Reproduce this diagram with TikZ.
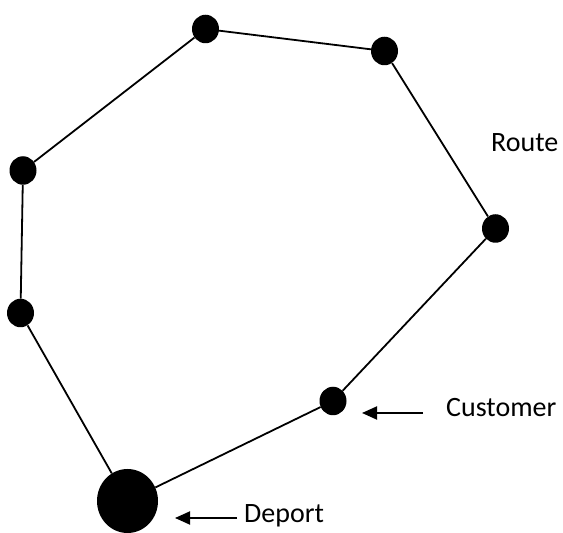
\documentclass[tikz,border=0pt]{standalone}
\usepackage{fontspec}
\setmainfont{Carlito}
\usetikzlibrary{shapes.geometric,arrows.meta}
\begin{document}
\begin{tikzpicture}[x=1pt,y=1pt,
  stop/.style={ellipse,fill=black,inner sep=0pt,minimum width=27pt,minimum height=28.5pt},
  depot/.style={ellipse,fill=black,inner sep=0pt,minimum width=61pt,minimum height=64pt},
  edge/.style={line width=1.8pt},
  pointer/.style={line width=1.9pt,-{Triangle[length=15pt,width=13pt]}},
  lbl/.style={inner sep=0pt,anchor=base west,font=\fontsize{28}{33}\selectfont}]
\useasboundingbox (0,0) rectangle (563,533);
\node[stop] (t1) at (205.5,504) {};
\node[stop] (t2) at (384.5,482) {};
\node[stop] (r) at (495.5,304.5) {};
\node[stop] (c) at (333,132) {};
\node[depot] (d) at (127.5,32) {};
\node[stop] (l1) at (23,362.5) {};
\node[stop] (l2) at (20.5,220) {};
\draw[edge] (d) -- (c) -- (r) -- (t2) -- (t1) -- (l1) -- (l2) -- (d);
\node[lbl] (route) at (491,381) {Route};
\node[lbl] (cust) at (446,116) {Customer};
\node[lbl] (dep) at (244,10) {Deport};
\coordinate (ca) at (423,120);
\coordinate (cb) at (362,120);
\coordinate (da) at (237,15);
\coordinate (db) at (175,15);
\draw[pointer] (ca) -- (cb);
\draw[pointer] (da) -- (db);
\end{tikzpicture}
\end{document}
